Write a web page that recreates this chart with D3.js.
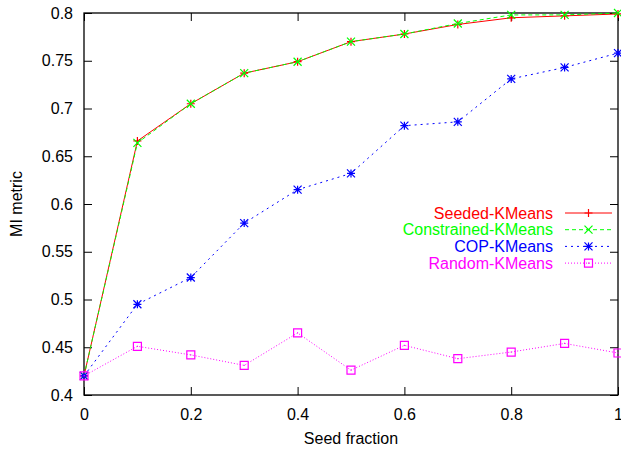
<!DOCTYPE html>
<html>
<head>
<meta charset="utf-8">
<script src="https://cdn.jsdelivr.net/npm/d3@7"></script>
<style>
  body { margin: 0; background: #fff; }
  text { font-family: "Liberation Sans", Arial, sans-serif; }
</style>
</head>
<body>
<div id="chart"></div>
<script>
// data
var seedFraction = [0, 0.1, 0.2, 0.3, 0.4, 0.5, 0.6, 0.7, 0.8, 0.9, 1.0];
var seededKMeans = [0.420, 0.666, 0.705, 0.737, 0.749, 0.770, 0.778, 0.788, 0.795, 0.797, 0.799];
var constrainedKMeans = [0.420, 0.664, 0.705, 0.737, 0.749, 0.770, 0.778, 0.789, 0.798, 0.798, 0.800];
var copKMeans = [0.420, 0.495, 0.523, 0.580, 0.615, 0.632, 0.682, 0.686, 0.731, 0.743, 0.758];
var randomKMeans = [0.420, 0.451, 0.442, 0.431, 0.465, 0.426, 0.452, 0.438, 0.445, 0.454, 0.444];
var xTicks = [0, 0.2, 0.4, 0.6, 0.8, 1];
var yTicks = [0.4, 0.45, 0.5, 0.55, 0.6, 0.65, 0.7, 0.75, 0.8];
var seriesNames = ["Seeded-KMeans", "Constrained-KMeans", "COP-KMeans", "Random-KMeans"];

var series = [
    {name: seriesNames[0], values: seededKMeans, color: "#ff0000", dash: null, marker: "plus"},
    {name: seriesNames[1], values: constrainedKMeans, color: "#00ff00", dash: "4,3", marker: "cross"},
    {name: seriesNames[2], values: copKMeans, color: "#0000ff", dash: "2,4", marker: "star"},
    {name: seriesNames[3], values: randomKMeans, color: "#ff00ff", dash: "1,2", marker: "box"}
];

var margin = {top: 13, right: 3, bottom: 54, left: 84};
var width = 621 - margin.left - margin.right;
var height = 449 - margin.top - margin.bottom;

var svg = d3.select("#chart")
    .append("svg")
    .attr("width", 621)
    .attr("height", 449)
    .append("g")
    .attr("transform", "translate(" + margin.left + "," + margin.top + ")");

var x = d3.scaleLinear().domain([0, 1]).range([0, width]);
var y = d3.scaleLinear().domain([0.4, 0.8]).range([height, 0]);

// axes, gnuplot style: ticks inward, mirrored
svg.append("g")
    .attr("transform", "translate(0," + height + ")")
    .call(d3.axisBottom(x).tickValues(xTicks).tickSizeInner(-8).tickSizeOuter(0).tickPadding(14)
        .tickFormat(function(d) { return +d.toFixed(1); }));
svg.append("g")
    .call(d3.axisLeft(y).tickValues(yTicks).tickSizeInner(-8).tickSizeOuter(0).tickPadding(11)
        .tickFormat(function(d) { return +d.toFixed(2); }));
svg.append("g")
    .call(d3.axisTop(x).tickValues(xTicks).tickSizeInner(-8).tickSizeOuter(0).tickFormat(""));
svg.append("g")
    .attr("transform", "translate(" + width + ",0)")
    .call(d3.axisRight(y).tickValues(yTicks).tickSizeInner(-8).tickSizeOuter(0).tickFormat(""));

svg.selectAll(".domain").remove();
svg.selectAll(".tick line").attr("stroke", "#000").attr("stroke-width", 1);
svg.selectAll(".tick text").style("font-size", "16px").attr("fill", "#000")
    .style("font-family", "'Liberation Sans', Arial, sans-serif");

svg.append("rect")
    .attr("x", 0).attr("y", 0)
    .attr("width", width).attr("height", height)
    .attr("fill", "none")
    .attr("stroke", "#000")
    .attr("stroke-width", 1.3);

// axis labels
svg.append("text")
    .attr("x", width / 2)
    .attr("y", height + 49)
    .attr("text-anchor", "middle")
    .style("font-size", "16px")
    .text("Seed fraction");

svg.append("text")
    .attr("transform", "rotate(-90)")
    .attr("x", 0 - height / 2)
    .attr("y", 0 - margin.left + 22)
    .attr("text-anchor", "middle")
    .style("font-size", "16px")
    .text("MI metric");

function drawMarker(g, type, cx, cy, color) {
    var s = 4;
    var path = "";
    if (type == "plus") {
        path = "M" + (cx - s) + "," + cy + "H" + (cx + s) + "M" + cx + "," + (cy - s) + "V" + (cy + s);
    } else if (type == "cross") {
        path = "M" + (cx - s) + "," + (cy - s) + "L" + (cx + s) + "," + (cy + s) +
            "M" + (cx - s) + "," + (cy + s) + "L" + (cx + s) + "," + (cy - s);
    } else if (type == "star") {
        path = "M" + (cx - s) + "," + cy + "H" + (cx + s) + "M" + cx + "," + (cy - s) + "V" + (cy + s) +
            "M" + (cx - s) + "," + (cy - s) + "L" + (cx + s) + "," + (cy + s) +
            "M" + (cx - s) + "," + (cy + s) + "L" + (cx + s) + "," + (cy - s);
    } else {
        path = "M" + (cx - s) + "," + (cy - s) + "H" + (cx + s) + "V" + (cy + s) + "H" + (cx - s) + "Z" +
            "M" + (cx - 0.5) + "," + cy + "H" + (cx + 0.5);
    }
    g.append("path")
        .attr("d", path)
        .attr("fill", "none")
        .attr("stroke", color)
        .attr("stroke-width", 1.2);
}

var line = d3.line()
    .x(function(d, i) { return x(seedFraction[i]); })
    .y(function(d) { return y(d); });

// legend positions
var legendTextX = 553 - margin.left;
var legendLineX1 = 565 - margin.left;
var legendLineX2 = 612 - margin.left;
var legendY0 = 213 - margin.top;
var legendStep = 16.7;

series.forEach(function(s, k) {
    var g = svg.append("g");
    g.append("path")
        .datum(s.values)
        .attr("d", line)
        .attr("fill", "none")
        .attr("stroke", s.color)
        .attr("stroke-width", 1)
        .attr("stroke-dasharray", s.dash);
    s.values.forEach(function(v, i) {
        drawMarker(g, s.marker, x(seedFraction[i]), y(v), s.color);
    });

    // legend entry
    var ly = legendY0 + k * legendStep;
    svg.append("text")
        .attr("x", legendTextX)
        .attr("y", ly)
        .attr("dy", "0.35em")
        .attr("text-anchor", "end")
        .attr("fill", s.color)
        .style("font-size", "16px")
        .text(s.name);
    svg.append("line")
        .attr("x1", legendLineX1).attr("x2", legendLineX2)
        .attr("y1", ly).attr("y2", ly)
        .attr("stroke", s.color)
        .attr("stroke-width", 1)
        .attr("stroke-dasharray", s.dash);
    drawMarker(svg, s.marker, (legendLineX1 + legendLineX2) / 2, ly, s.color);
});
</script>
</body>
</html>
